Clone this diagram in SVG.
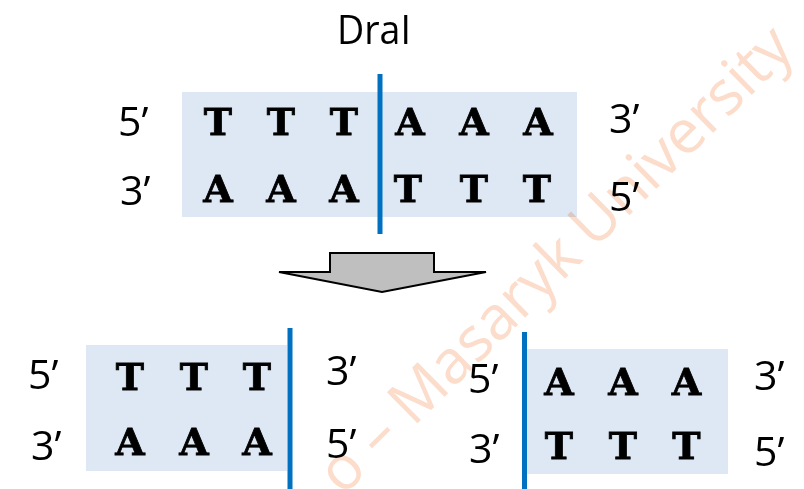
<svg xmlns="http://www.w3.org/2000/svg" width="804" height="489" viewBox="0 0 804 489">
  <style>
    .lbl { font-family: "Open Sans", "Liberation Sans", sans-serif; font-size: 41px; fill: #000; }
    .base { font-family: "DejaVu Serif", "Liberation Serif", serif; font-weight: bold; font-size: 38px; fill: #000; stroke: #000; stroke-width: 0.8px; text-anchor: middle; }
    .box { fill: #dde8f4; }
    .cut { stroke: #0070c0; stroke-width: 5; }
    .wm { font-family: "Open Sans", "Liberation Sans", sans-serif; font-size: 61px; fill: #fcdccb; mix-blend-mode: multiply; }
  </style>
  <rect width="804" height="489" fill="#fff"/>

  <!-- uncut DNA: 5'-TTTAAA-3' duplex with the DraI site -->
  <g id="uncut">
    <rect class="box" x="182" y="92" width="395" height="125"/>
    <text class="lbl" x="337" y="44" textLength="74" lengthAdjust="spacingAndGlyphs">DraI</text>
    <text class="lbl" x="118" y="136">5’</text>
    <text class="lbl" x="609" y="133">3’</text>
    <text class="lbl" x="120" y="205">3’</text>
    <text class="lbl" x="609" y="211">5’</text>
    <text class="base" x="218 249.5 281 312.5 344" y="135">T T T</text>
    <text class="base" x="410 442 474 506 538" y="135">A A A</text>
    <text class="base" x="218 249.5 281 312.5 344" y="202">A A A</text>
    <text class="base" x="408 441 474 506 537" y="202">T T T</text>
    <line class="cut" x1="380" y1="74" x2="380" y2="234"/>
  </g>

  <!-- block arrow -->
  <g id="arrow">
    <polygon points="330,253 434,253 434,272 486,272 382,292 279,272 330,272" fill="#bfbfbf" stroke="#000" stroke-width="2" stroke-linejoin="miter"/>
  </g>

  <!-- left fragment after cleavage -->
  <g id="left-fragment">
    <rect class="box" x="86" y="345" width="201" height="126"/>
    <text class="lbl" x="28" y="389">5’</text>
    <text class="lbl" x="31" y="460">3’</text>
    <text class="lbl" x="326" y="385">3’</text>
    <text class="lbl" x="326" y="458">5’</text>
    <text class="base" x="130 162 194 225.5 257" y="390">T T T</text>
    <text class="base" x="130 162 194 225.5 257" y="455">A A A</text>
    <line class="cut" x1="290" y1="328" x2="290" y2="489"/>
  </g>

  <!-- right fragment after cleavage -->
  <g id="right-fragment">
    <rect class="box" x="527" y="349" width="201" height="125"/>
    <text class="lbl" x="468" y="393">5’</text>
    <text class="lbl" x="469" y="463">3’</text>
    <text class="lbl" x="754" y="390">3’</text>
    <text class="lbl" x="754" y="466">5’</text>
    <text class="base" x="559 591 623 655 686.5" y="395">A A A</text>
    <text class="base" x="559 591 623 655 686.5" y="459">T T T</text>
    <line class="cut" x1="524.5" y1="332" x2="524.5" y2="489"/>
  </g>

  <!-- watermark -->
  <g id="watermark" transform="translate(594,250) rotate(-44.5)">
    <text class="wm" x="0" y="0">University</text>
    <text class="wm" x="-14" y="0" text-anchor="end">o – Masaryk</text>
  </g>
</svg>
